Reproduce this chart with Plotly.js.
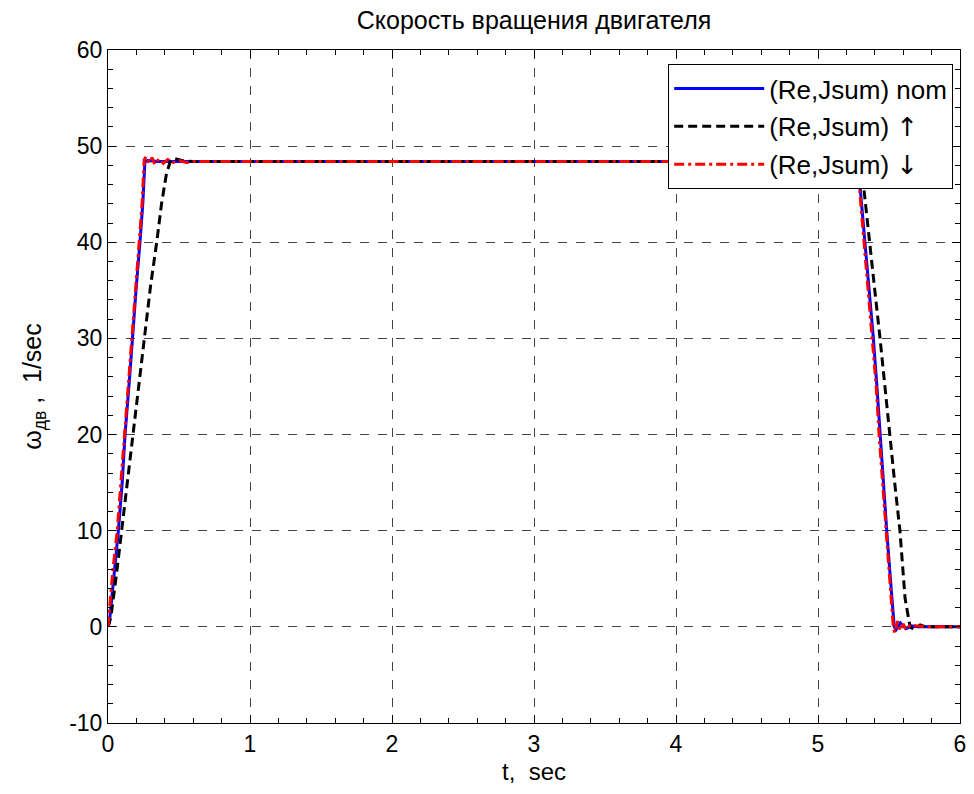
<!DOCTYPE html>
<html>
<head>
<meta charset="utf-8">
<script src="https://cdn.plot.ly/plotly-3.0.1.min.js"></script>
<style>html,body{margin:0;padding:0;background:#fff;}#chart{width:974px;height:794px;}</style>
</head>
<body>
<div id="chart"></div>
<script>
// Nominal (Re,Jsum)
const tNom = [0, 0.01, 0.04, 0.073, 0.10, 0.12, 0.15, 0.171, 0.20, 0.225, 0.245, 0.26, 0.28, 0.35, 0.5, 1, 2, 3, 4, 5, 5.28, 5.296, 5.331, 5.36, 5.39, 5.415, 5.437, 5.46, 5.484, 5.51, 5.537, 5.55, 5.58, 5.62, 5.66, 5.7, 6];
const wNom = [0, 0.5, 5, 10, 15, 20, 25.5, 30, 35.5, 40, 44, 48.4, 48.5, 48.4, 48.4, 48.4, 48.4, 48.4, 48.4, 48.4, 48.4, 45.8, 40, 35, 30, 25, 20, 15, 10, 5, 0, -0.3, 0.4, -0.2, 0.1, 0, 0];
// Jsum increased
const tUp = [0, 0.02, 0.06, 0.096, 0.14, 0.178, 0.22, 0.256, 0.30, 0.343, 0.377, 0.41, 0.44, 0.47, 0.52, 0.6, 1, 2, 3, 4, 5, 5.295, 5.32, 5.366, 5.40, 5.437, 5.47, 5.507, 5.54, 5.577, 5.613, 5.648, 5.68, 5.72, 5.76, 6];
const wUp = [0, 1, 5.5, 10, 15, 20, 25.5, 30, 35.5, 40, 44, 47, 48.5, 48.7, 48.5, 48.4, 48.4, 48.4, 48.4, 48.4, 48.4, 48.4, 46, 40, 35, 30, 25, 20, 15, 10, 3, 0, -0.3, 0.2, 0, 0];
// Jsum decreased
const tDn = [0, 0.01, 0.035, 0.065, 0.09, 0.115, 0.14, 0.165, 0.19, 0.22, 0.24, 0.255, 0.27, 0.29, 0.31, 0.33, 0.36, 0.39, 0.42, 0.46, 0.5, 0.55, 0.6, 1, 2, 3, 4, 5, 5.275, 5.29, 5.325, 5.355, 5.385, 5.41, 5.43, 5.455, 5.48, 5.51, 5.53, 5.54, 5.56, 5.58, 5.6, 5.62, 5.65, 5.7, 5.75, 6];
const wDn = [0, 2, 6, 10, 15, 20, 25, 30, 35, 40, 44, 48.6, 48.9, 48.2, 48.8, 48.1, 48.7, 48.2, 48.6, 48.3, 48.5, 48.3, 48.4, 48.4, 48.4, 48.4, 48.4, 48.4, 48.4, 46, 40, 35, 30, 25, 20, 15, 10, 5, 0, -0.6, 0.6, -0.4, 0.3, -0.3, 0.2, 0.1, 0, 0];

const arrowUp = '<span style="font-family:DejaVu Sans">\u2191</span>';
const arrowDn = '<span style="font-family:DejaVu Sans">\u2193</span>';
const seriesNames = ['(Re,Jsum) nom', '(Re,Jsum) ' + arrowUp, '(Re,Jsum) ' + arrowDn];
const xTickVals = [0, 1, 2, 3, 4, 5, 6];
const xTickText = ['0', '1', '2', '3', '4', '5', '6'];
const yTickVals = [-10, 0, 10, 20, 30, 40, 50, 60];
const yTickText = ['-10', '0', '10', '20', '30', '40', '50', '60'];

const font = 'Liberation Sans, Arial, sans-serif';

const traces = [
  {x: tNom, y: wNom, name: seriesNames[0], legendgroup: 'a', mode: 'lines', line: {color: '#0000ff', width: 3}},
  {x: tUp, y: wUp, name: seriesNames[1], legendgroup: 'b', mode: 'lines', line: {color: '#000000', width: 3, dash: '9px,5px'}},
  {x: tDn, y: wDn, name: seriesNames[2], legendgroup: 'c', mode: 'lines', line: {color: '#ff0000', width: 3, dash: '10px,4px,3px,4px'}}
];

const axisCommon = {
  showline: true, linecolor: '#000', linewidth: 1, mirror: 'ticks',
  ticks: 'inside', ticklen: 8, tickcolor: '#000', tickwidth: 1,
  showgrid: true, gridcolor: '#444', griddash: 'dash', gridwidth: 1,
  zeroline: false,
  tickfont: {family: font, size: 23, color: '#000'}
};

const layout = {
  width: 974, height: 794,
  margin: {l: 108, r: 14, t: 50, b: 71},
  paper_bgcolor: '#fff', plot_bgcolor: '#fff',
  title: {text: 'Скорость вращения двигателя', font: {family: font, size: 25, color: '#000'}, x: 0.5, xref: 'paper', xanchor: 'center', y: 0.974, yref: 'container', yanchor: 'middle'},
  xaxis: Object.assign({}, axisCommon, {
    range: [0, 6], tickvals: xTickVals, ticktext: xTickText,
    minor: {dtick: 0.2, ticklen: 5, tickcolor: '#000', ticks: 'inside', showgrid: false},
    title: {text: 't,  sec', font: {family: font, size: 24, color: '#000'}, standoff: 7}
  }),
  yaxis: Object.assign({}, axisCommon, {
    range: [-10, 60], tickvals: yTickVals, ticktext: yTickText,
    minor: {dtick: 2, ticklen: 5, tickcolor: '#000', ticks: 'inside', showgrid: false},
    title: {text: 'ω<sub>дв</sub> ,  1/sec', font: {family: font, size: 25, color: '#000'}, standoff: 20}
  }),
  showlegend: true,
  legend: {
    x: 0.992, xanchor: 'right', y: 0.979, yanchor: 'top',
    bgcolor: '#fff', bordercolor: '#000', borderwidth: 1,
    font: {family: font, size: 26, color: '#000'},
    itemwidth: 90, tracegroupgap: 1
  }
};

Plotly.newPlot('chart', traces, layout, {displayModeBar: false, staticPlot: true});
</script>
</body>
</html>
